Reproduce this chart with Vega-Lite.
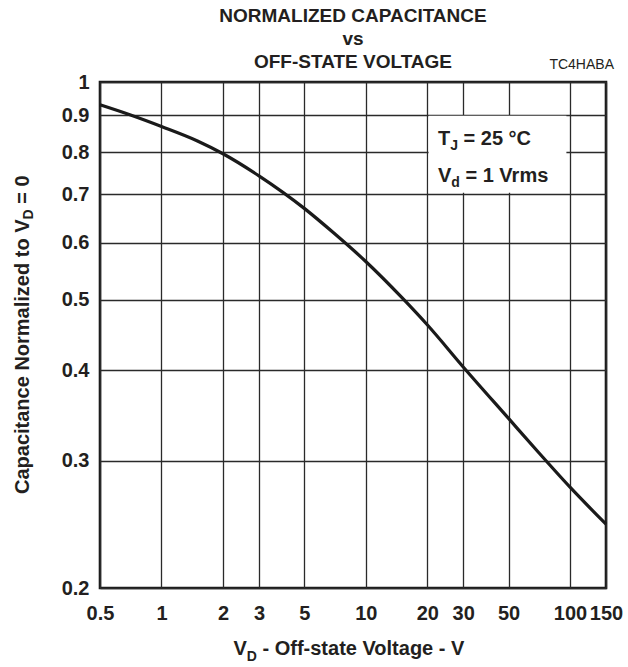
{
  "$schema": "https://vega.github.io/schema/vega-lite/v6.json",
  "width": 506,
  "height": 506,
  "autosize": {"type": "none"},
  "padding": {"left": 100, "top": 82, "right": 22, "bottom": 79},
  "background": "white",
  "config": {
    "font": "Liberation Sans",
    "view": {"stroke": "#1a1a1a", "strokeWidth": 2.6},
    "axis": {
      "grid": true, "gridColor": "#2a2a2a", "gridWidth": 1.3, "gridOpacity": 1,
      "ticks": false, "domain": false,
      "labelFont": "Liberation Sans", "labelFontSize": 20, "labelFontWeight": "bold", "labelColor": "#231f20",
      "labelOverlap": false, "labelBound": false, "labelFlush": false
    }
  },
  "title": {
    "text": ["NORMALIZED CAPACITANCE", "vs", "OFF-STATE VOLTAGE"],
    "font": "Liberation Sans", "fontSize": 19, "fontWeight": "bold", "color": "#231f20",
    "lineHeight": 23, "anchor": "middle", "offset": -14
  },
  "datasets": {
    "curve": [
      {"x": 0.5, "y": 0.930},
      {"x": 0.7, "y": 0.901},
      {"x": 1, "y": 0.868},
      {"x": 1.5, "y": 0.829},
      {"x": 2, "y": 0.796},
      {"x": 3, "y": 0.742},
      {"x": 5, "y": 0.669},
      {"x": 7, "y": 0.618},
      {"x": 10, "y": 0.565},
      {"x": 15, "y": 0.504},
      {"x": 20, "y": 0.462},
      {"x": 30, "y": 0.404},
      {"x": 50, "y": 0.343},
      {"x": 70, "y": 0.308},
      {"x": 100, "y": 0.2756},
      {"x": 150, "y": 0.245}
    ],
    "box": [{"x": 20.3, "x2": 96, "y": 0.898, "y2": 0.703}],
    "main": [
      {"x": 22.56, "y": 0.818, "t": "T"},
      {"x": 30.11, "y": 0.818, "t": "= 25 °C"},
      {"x": 22.56, "y": 0.728, "t": "V"},
      {"x": 30.76, "y": 0.728, "t": "= 1 Vrms"},
      {"x": 2.251, "y": 0.1618, "t": "V"},
      {"x": 3.122, "y": 0.1618, "t": "- Off-state Voltage - V"}
    ],
    "subs": [
      {"x": 25.89, "y": 0.806, "t": "J"},
      {"x": 26.21, "y": 0.716, "t": "d"},
      {"x": 2.616, "y": 0.1585, "t": "D"}
    ],
    "ymain": [
      {"x": 0.2246, "y": 0.2697, "t": "Capacitance Normalized to V"},
      {"x": 0.2246, "y": 0.679, "t": "= 0"}
    ],
    "ysub": [
      {"x": 0.234, "y": 0.6456, "t": "D"}
    ],
    "note": [{"x": 150, "y": 1, "t": "TC4HABA"}]
  },
  "encoding": {
    "x": {
      "field": "x", "type": "quantitative",
      "scale": {"type": "log", "domain": [0.5, 150], "nice": false},
      "axis": {"values": [0.5, 1, 2, 3, 5, 10, 20, 30, 50, 100, 150], "format": "~g", "title": null, "labelPadding": 15}
    },
    "y": {
      "field": "y", "type": "quantitative",
      "scale": {"type": "log", "domain": [0.2, 1], "nice": false},
      "axis": {"values": [0.2, 0.3, 0.4, 0.5, 0.6, 0.7, 0.8, 0.9, 1], "format": "~g", "title": null, "labelPadding": 11}
    }
  },
  "layer": [
    {
      "data": {"name": "box"},
      "mark": {"type": "rect", "fill": "white", "stroke": null},
      "encoding": {"x2": {"field": "x2"}, "y2": {"field": "y2"}}
    },
    {
      "data": {"name": "curve"},
      "mark": {"type": "line", "color": "#1a1a1a", "strokeWidth": 3.2, "interpolate": "monotone"},
      "encoding": {}
    },
    {
      "data": {"name": "main"},
      "mark": {"type": "text", "align": "left", "baseline": "alphabetic", "fontSize": 20, "fontWeight": "bold", "color": "#231f20"},
      "encoding": {"text": {"field": "t"}}
    },
    {
      "data": {"name": "subs"},
      "mark": {"type": "text", "align": "left", "baseline": "alphabetic", "fontSize": 14, "fontWeight": "bold", "color": "#231f20"},
      "encoding": {"text": {"field": "t"}}
    },
    {
      "data": {"name": "ymain"},
      "mark": {"type": "text", "align": "left", "baseline": "alphabetic", "angle": 270, "fontSize": 20, "fontWeight": "bold", "color": "#231f20"},
      "encoding": {"text": {"field": "t"}}
    },
    {
      "data": {"name": "ysub"},
      "mark": {"type": "text", "align": "left", "baseline": "alphabetic", "angle": 270, "fontSize": 14, "fontWeight": "bold", "color": "#231f20"},
      "encoding": {"text": {"field": "t"}}
    },
    {
      "data": {"name": "note"},
      "mark": {"type": "text", "align": "right", "baseline": "alphabetic", "dx": 8, "dy": -13, "fontSize": 14, "color": "#231f20"},
      "encoding": {"text": {"field": "t"}}
    }
  ]
}
